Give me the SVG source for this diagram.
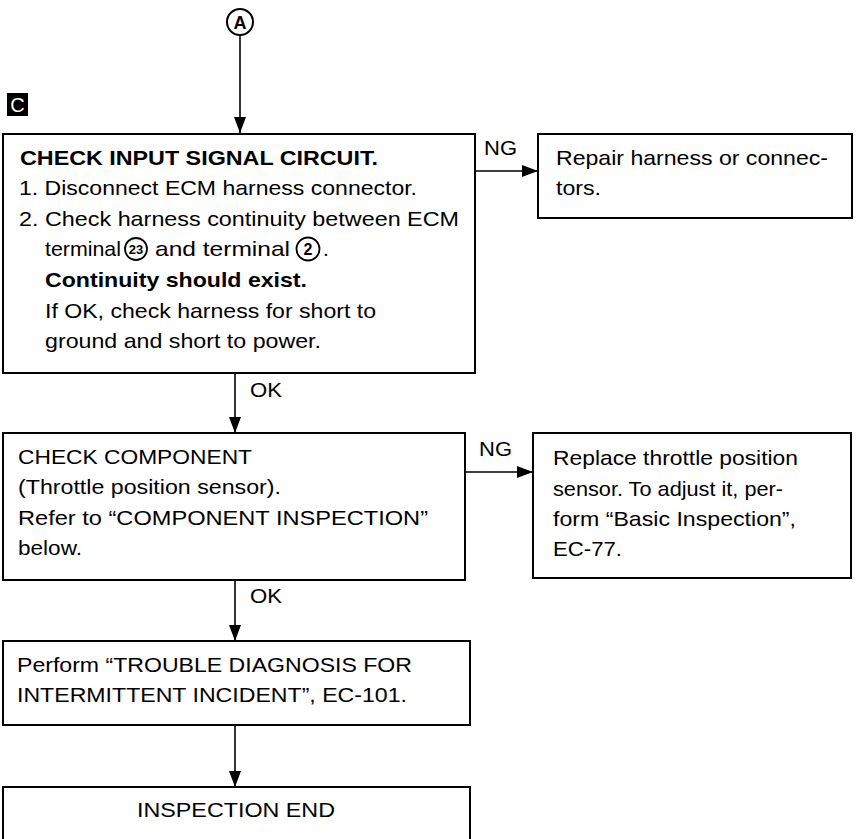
<svg xmlns="http://www.w3.org/2000/svg" width="858" height="839" viewBox="0 0 858 839">
<defs>
<style>
.box{fill:#fff;stroke:#000;stroke-width:2}
.t{font-family:"Liberation Sans",Arial,sans-serif;font-size:21px;fill:#000}
.b{font-weight:bold}
.c{fill:none;stroke:#000;stroke-width:1.6}
.lbl{font-family:"Liberation Sans",Arial,sans-serif;font-size:20px;fill:#000}
</style>
<marker id="ah" markerUnits="userSpaceOnUse" markerWidth="16" markerHeight="12" refX="16" refY="6" orient="auto">
<path d="M0,0 L16,6 L0,12 z" fill="#000"/>
</marker>
</defs>
<rect width="858" height="839" fill="#fff"/>

<g id="connector-A">
<circle cx="240" cy="22" r="13" fill="#fff" stroke="#000" stroke-width="2"/>
<text x="240" y="29" text-anchor="middle" class="t b" style="font-size:18px">A</text>
</g>
<g id="label-C">
<rect x="7" y="93" width="21" height="23" fill="#000"/>
<text x="17.5" y="112" text-anchor="middle" class="t" style="font-size:20px;fill:#fff">C</text>
</g>

<g id="connectors">
<line class="c" x1="240" y1="35" x2="240" y2="133" marker-end="url(#ah)"/>
<line class="c" x1="476" y1="171" x2="538" y2="171" marker-end="url(#ah)"/>
<text class="lbl" x="484" y="155" textLength="33" lengthAdjust="spacingAndGlyphs">NG</text>
<line class="c" x1="235" y1="374" x2="235" y2="433" marker-end="url(#ah)"/>
<text class="lbl" x="250" y="397" textLength="32" lengthAdjust="spacingAndGlyphs">OK</text>
<line class="c" x1="466" y1="472" x2="533" y2="472" marker-end="url(#ah)"/>
<text class="lbl" x="479" y="456" textLength="33" lengthAdjust="spacingAndGlyphs">NG</text>
<line class="c" x1="235" y1="581" x2="235" y2="641" marker-end="url(#ah)"/>
<text class="lbl" x="250" y="603" textLength="32" lengthAdjust="spacingAndGlyphs">OK</text>
<line class="c" x1="235" y1="726" x2="235" y2="787" marker-end="url(#ah)"/>
</g>

<g id="check-input">
<rect class="box" x="3" y="134" width="472" height="239"/>
<text class="t b" x="20" y="165" textLength="358" lengthAdjust="spacingAndGlyphs">CHECK INPUT SIGNAL CIRCUIT.</text>
<text class="t" x="19" y="195" textLength="398" lengthAdjust="spacingAndGlyphs">1. Disconnect ECM harness connector.</text>
<text class="t" x="19" y="226" textLength="440" lengthAdjust="spacingAndGlyphs">2. Check harness continuity between ECM</text>
<text class="t" x="45" y="256" textLength="76" lengthAdjust="spacingAndGlyphs">terminal</text>
<circle cx="136" cy="249" r="11" fill="none" stroke="#000" stroke-width="1.8"/>
<text class="t b" x="136" y="254" text-anchor="middle" style="font-size:13px">23</text>
<text class="t" x="155" y="256" textLength="135" lengthAdjust="spacingAndGlyphs">and terminal</text>
<circle cx="308" cy="249" r="11.5" fill="none" stroke="#000" stroke-width="1.8"/>
<text class="t b" x="308" y="255" text-anchor="middle" style="font-size:16px">2</text>
<text class="t" x="323" y="256">.</text>
<text class="t b" x="45" y="287" textLength="262" lengthAdjust="spacingAndGlyphs">Continuity should exist.</text>
<text class="t" x="45" y="318" textLength="331" lengthAdjust="spacingAndGlyphs">If OK, check harness for short to</text>
<text class="t" x="45" y="348" textLength="276" lengthAdjust="spacingAndGlyphs">ground and short to power.</text>
</g>

<g id="repair">
<rect class="box" x="538" y="134" width="314" height="84"/>
<text class="t" x="556" y="165" textLength="272" lengthAdjust="spacingAndGlyphs">Repair harness or connec-</text>
<text class="t" x="556" y="195" textLength="45" lengthAdjust="spacingAndGlyphs">tors.</text>
</g>

<g id="check-component">
<rect class="box" x="3" y="433" width="462" height="147"/>
<text class="t" x="18" y="464" textLength="234" lengthAdjust="spacingAndGlyphs">CHECK COMPONENT</text>
<text class="t" x="18" y="494" textLength="263" lengthAdjust="spacingAndGlyphs">(Throttle position sensor).</text>
<text class="t" x="18" y="525" textLength="410" lengthAdjust="spacingAndGlyphs">Refer to “COMPONENT INSPECTION”</text>
<text class="t" x="18" y="555" textLength="64" lengthAdjust="spacingAndGlyphs">below.</text>
</g>

<g id="replace">
<rect class="box" x="533" y="433" width="318" height="145"/>
<text class="t" x="553" y="465" textLength="245" lengthAdjust="spacingAndGlyphs">Replace throttle position</text>
<text class="t" x="553" y="496" textLength="230" lengthAdjust="spacingAndGlyphs">sensor. To adjust it, per-</text>
<text class="t" x="553" y="526" textLength="243" lengthAdjust="spacingAndGlyphs">form “Basic Inspection”,</text>
<text class="t" x="553" y="556" textLength="69" lengthAdjust="spacingAndGlyphs">EC-77.</text>
</g>

<g id="perform">
<rect class="box" x="3" y="641" width="467" height="84"/>
<text class="t" x="17" y="672" textLength="395" lengthAdjust="spacingAndGlyphs">Perform “TROUBLE DIAGNOSIS FOR</text>
<text class="t" x="17" y="702" textLength="390" lengthAdjust="spacingAndGlyphs">INTERMITTENT INCIDENT”, EC-101.</text>
</g>

<g id="end">
<rect class="box" x="3" y="787" width="467" height="60"/>
<text class="t" x="236" y="817" text-anchor="middle" textLength="198" lengthAdjust="spacingAndGlyphs">INSPECTION END</text>
</g>
</svg>
